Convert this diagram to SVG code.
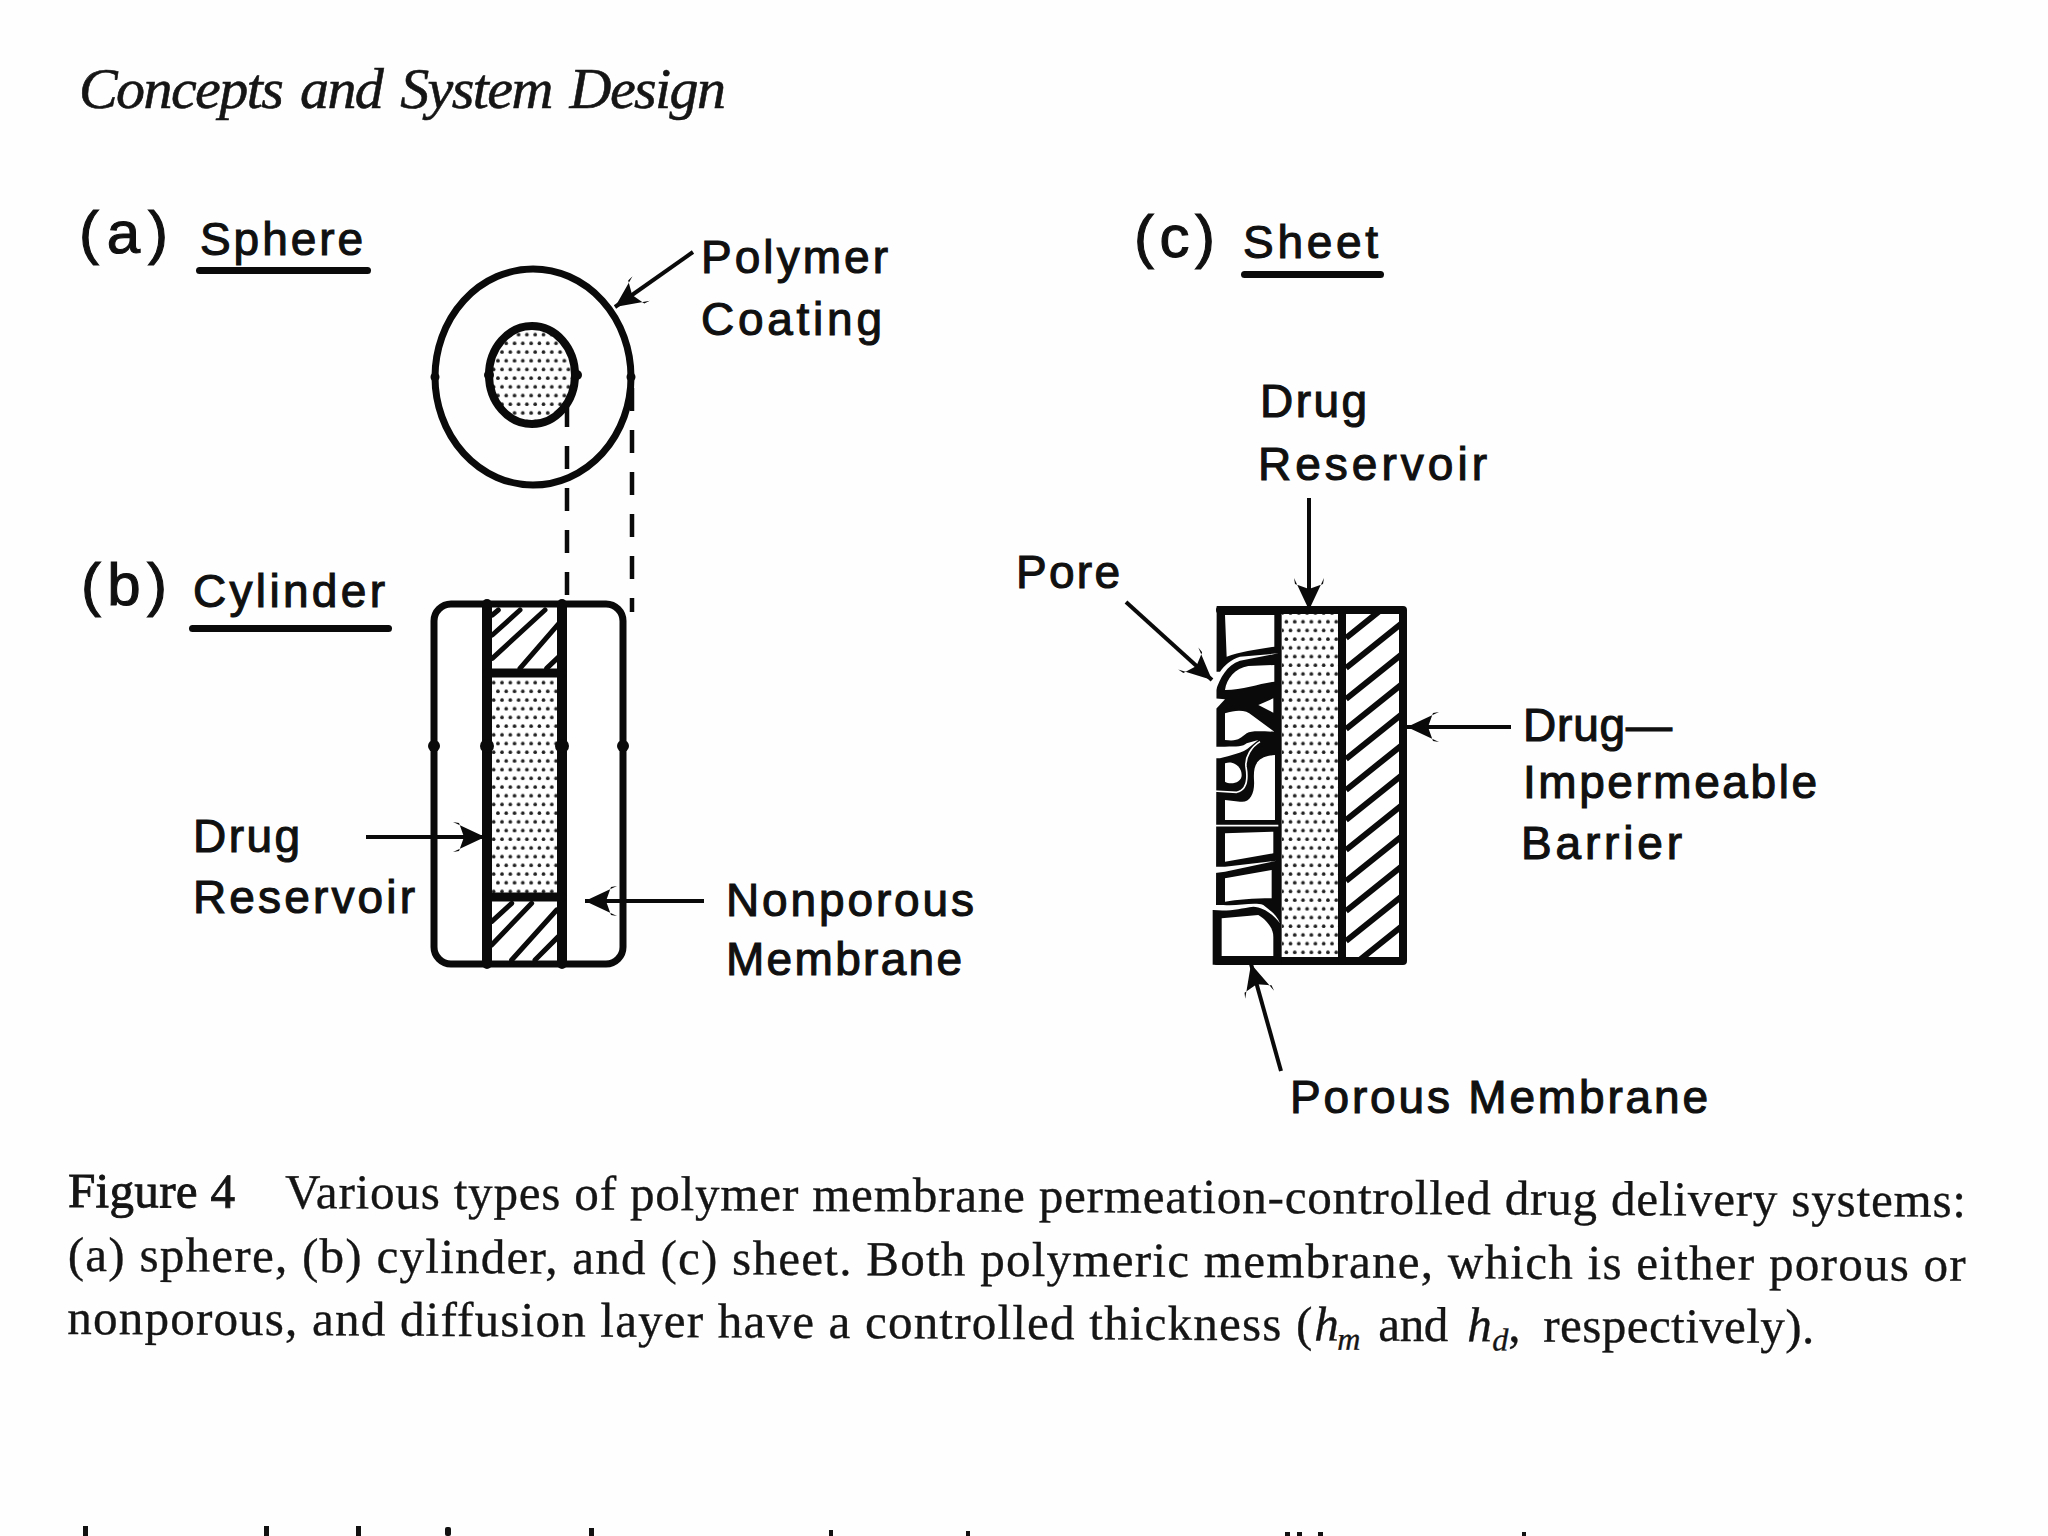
<svg xmlns="http://www.w3.org/2000/svg" width="2048" height="1536" viewBox="0 0 2048 1536">
<style>
.s{font-family:"Liberation Sans",Arial,sans-serif;fill:#101010;stroke:#101010;stroke-width:1.1}
.l{font-size:46px}
.p{font-size:60px}
.c{font-family:"Liberation Serif","Times New Roman",serif;font-size:49px;fill:#151515;stroke:#151515;stroke-width:.35}
.i{font-style:italic}
.k{fill:none;stroke:#0a0a0a;stroke-linecap:round;stroke-linejoin:round}
.a{fill:none;stroke:#0a0a0a;stroke-width:4;marker-end:url(#ah)}
.d{fill:none;stroke:#0a0a0a;stroke-width:4.5;stroke-dasharray:23 19}
</style>
<defs>
<marker id="ah" markerUnits="userSpaceOnUse" markerWidth="38" markerHeight="34" refX="34" refY="17" orient="auto">
<path d="M34,17 L2,2 L8,3 L13,17 L8,31 L2,32 Z" fill="#0a0a0a"/>
</marker>
<pattern id="dots" width="16.6" height="17.4" patternUnits="userSpaceOnUse">
<circle cx="4" cy="4" r="1.8" fill="#222"/><circle cx="12.3" cy="4" r="1.8" fill="#222"/>
<circle cx="8.2" cy="12.7" r="1.8" fill="#222"/><circle cx="16.5" cy="12.7" r="1.8" fill="#222"/><circle cx="0" cy="12.7" r="1.8" fill="#222"/>
</pattern>
<clipPath id="hc"><rect x="1346" y="613" width="55" height="345"/></clipPath>
</defs>
<rect width="2048" height="1536" fill="#fefefe"/>

<text id="header" x="79" y="108" class="i" font-family="Liberation Serif, serif" font-size="58" fill="#151515" stroke="#151515" stroke-width=".6" textLength="647" lengthAdjust="spacing" word-spacing="5">Concepts and System Design</text>

<g id="sphere">
<text class="s p" x="79" y="253" textLength="89">(a)</text>
<text class="s l" x="200" y="255" textLength="163">Sphere</text>
<rect x="196" y="267" width="175" height="7" rx="3.5" fill="#0a0a0a"/>
<ellipse class="k" cx="533" cy="377" rx="98" ry="108" stroke-width="7" fill="#fff"/>
<ellipse cx="532" cy="375" rx="43" ry="49" fill="url(#dots)" stroke="#0a0a0a" stroke-width="8"/>
<circle cx="435" cy="377" r="4.5" fill="#0a0a0a"/><circle cx="631" cy="377" r="4.5" fill="#0a0a0a"/>
<circle cx="489" cy="375" r="5" fill="#0a0a0a"/><circle cx="577" cy="375" r="5" fill="#0a0a0a"/>
<text class="s l" x="701" y="273" textLength="187">Polymer</text>
<text class="s l" x="701" y="335" textLength="181">Coating</text>
</g>

<g id="cylinder">
<text class="s p" x="81" y="605" textLength="86">(b)</text>
<text class="s l" x="193" y="607" textLength="192">Cylinder</text>
<rect x="189" y="625" width="203" height="7" rx="3.5" fill="#0a0a0a"/>
<rect x="434" y="604" width="189" height="360" rx="17" fill="#fff" stroke="#0a0a0a" stroke-width="7"/>
<rect x="487" y="677" width="75" height="216" fill="url(#dots)"/>
<g transform="translate(400,580) scale(.3333)" class="k" stroke-width="15" stroke-linecap="butt">
<path d="M277,105 L295,90 M277,165 L360,90 M277,235 L435,90 M360,265 L477,130 M440,265 L477,230"/>
<path d="M275,1025 L335,970 M275,1095 L395,970 M335,1140 L470,990 M405,1140 L475,1070"/>
</g>
<path class="k" d="M487,604 V964 M562,604 V964" stroke-width="10" stroke-linecap="butt"/>
<path class="k" d="M487,673 H562 M487,897 H562" stroke-width="9"/>
<circle cx="434" cy="746" r="6" fill="#0a0a0a"/><circle cx="487" cy="746" r="7" fill="#0a0a0a"/><circle cx="562" cy="746" r="7" fill="#0a0a0a"/><circle cx="623" cy="746" r="6" fill="#0a0a0a"/>
<text class="s l" x="193" y="852" textLength="107">Drug</text>
<text class="s l" x="193" y="913" textLength="222">Reservoir</text>
<text class="s l" x="726" y="916" textLength="248">Nonporous</text>
<text class="s l" x="726" y="975" textLength="236">Membrane</text>
</g>

<g id="sheet">
<text class="s p" x="1134" y="257" textLength="81">(c)</text>
<text class="s l" x="1243" y="258" textLength="135">Sheet</text>
<rect x="1241" y="271" width="143" height="7" rx="3.5" fill="#0a0a0a"/>
<rect x="1219" y="610" width="184" height="351" fill="#fff"/>
<rect x="1282" y="612" width="57" height="348" fill="url(#dots)"/>
<g clip-path="url(#hc)" stroke="#0a0a0a" stroke-width="6">
<path d="M1346,638 l56,-45 M1346,668 l56,-45 M1346,699 l56,-45 M1346,729 l56,-45 M1346,759 l56,-45 M1346,790 l56,-45 M1346,820 l56,-45 M1346,850 l56,-45 M1346,881 l56,-45 M1346,911 l56,-45 M1346,941 l56,-45 M1346,971 l56,-45"/>
</g>
<path class="k" d="M1220,610 H1403 V961 H1217" stroke-width="8"/>
<path class="k" d="M1342,610 V961" stroke-width="8"/>
<g id="pores" transform="translate(1180,590) scale(.3333)">
<path d="M110,48 H305 V1124 H98 V960 L108,960 Z" fill="#0a0a0a"/>
<g fill="#fff">
<path d="M135,75 H283 V170 C230,178 180,185 140,200 Z"/>
<path d="M135,300 C140,265 165,235 205,228 L283,225 V275 C240,280 190,300 135,300 Z"/>
<path d="M235,345 L280,325 V368 Z"/>
<path d="M135,370 C170,358 200,360 215,375 L283,425 C250,425 215,420 200,430 C180,445 175,455 135,450 Z"/>
<path d="M135,520 C165,510 185,535 185,555 C185,580 150,585 135,575 Z"/>
<path d="M135,630 L180,635 C210,640 225,610 222,570 C220,530 225,500 285,495 V690 H135 Z"/>
<path d="M135,730 L280,725 V790 L135,815 Z"/>
<path d="M135,865 L275,840 V925 C220,925 170,930 135,935 Z"/>
<path d="M125,985 L235,975 C260,990 280,1015 280,1040 V1098 H125 Z"/>
</g>
<g fill="#fefefe">
<path d="M100,245 L120,245 C135,225 150,210 180,200 L295,190 L180,212 C140,225 120,265 108,300 L100,300 Z"/>
<path d="M100,325 L135,328 L110,355 L100,355 Z"/>
<path d="M100,470 L135,470 C170,470 190,470 200,460 L235,450 L210,470 C190,490 150,495 120,505 L100,505 Z"/>
<path d="M100,830 L135,830 L290,812 L135,845 L100,850 Z"/>
<path d="M95,945 L130,945 C170,950 220,935 250,945 C275,965 290,975 300,1000 C280,975 250,950 220,950 C180,955 150,965 100,960 Z"/>
</g>
<path d="M100,603 L170,607 C200,600 205,570 198,530 C195,500 215,470 240,455 M100,707 H295" fill="none" stroke="#fefefe" stroke-width="5"/>
</g>
<text class="s l" x="1260" y="417" textLength="107">Drug</text>
<text class="s l" x="1258" y="480" textLength="229">Reservoir</text>
<text class="s l" x="1016" y="588" textLength="104">Pore</text>
<text class="s l" x="1523" y="741" textLength="149">Drug—</text>
<text class="s l" x="1523" y="798" textLength="294">Impermeable</text>
<text class="s l" x="1521" y="859" textLength="161">Barrier</text>
<text class="s l" x="1290" y="1113" textLength="418">Porous Membrane</text>
</g>

<g id="connectors">
<path class="a" d="M693,252 L615,307"/>
<path class="a" d="M366,837 L485,837"/>
<path class="a" d="M704,901 L585,901"/>
<path class="a" d="M1309,498 L1309,610"/>
<path class="a" d="M1126,602 L1212,680"/>
<path class="a" d="M1511,727 L1407,727"/>
<path class="a" d="M1281,1071 L1251,964"/>
<path class="d" d="M567,404 V596"/>
<path class="d" d="M632,388 V612"/>
</g>

<g id="caption" transform="rotate(.3 68 1208)">
<text class="c" x="68" y="1207" textLength="167" style="stroke-width:.9">Figure 4</text>
<text class="c" x="285" y="1207" textLength="1681">Various types of polymer membrane permeation-controlled drug delivery systems:</text>
<text class="c" x="68" y="1271" textLength="1898">(a) sphere, (b) cylinder, and (c) sheet. Both polymeric membrane, which is either porous or</text>
<text class="c" x="68" y="1334" textLength="1245">nonporous, and diffusion layer have a controlled thickness (</text>
<text class="c i" x="1315" y="1334">h</text>
<text class="c i" x="1338" y="1343" style="font-size:32px">m</text>
<text class="c" x="1379" y="1334" textLength="70">and</text>
<text class="c i" x="1468" y="1334">h</text>
<text class="c i" x="1493" y="1343" style="font-size:32px">d</text>
<text class="c" x="1509" y="1334">,</text>
<text class="c" x="1544" y="1334" textLength="271">respectively).</text>
</g>

<g id="cut-off-line" fill="#111">
<rect x="83" y="1526" width="5" height="10"/>
<rect x="264" y="1526" width="5" height="10"/>
<rect x="356" y="1526" width="5" height="10"/>
<rect x="445" y="1527" width="6" height="9" rx="2"/>
<rect x="589" y="1528" width="5" height="8"/>
<rect x="829" y="1530" width="4" height="6"/>
<rect x="966" y="1531" width="4" height="5"/>
<rect x="1285" y="1532" width="5" height="4"/>
<rect x="1297" y="1532" width="5" height="4"/>
<rect x="1318" y="1532" width="5" height="4"/>
<rect x="1522" y="1532" width="4" height="4"/>
</g>
</svg>
